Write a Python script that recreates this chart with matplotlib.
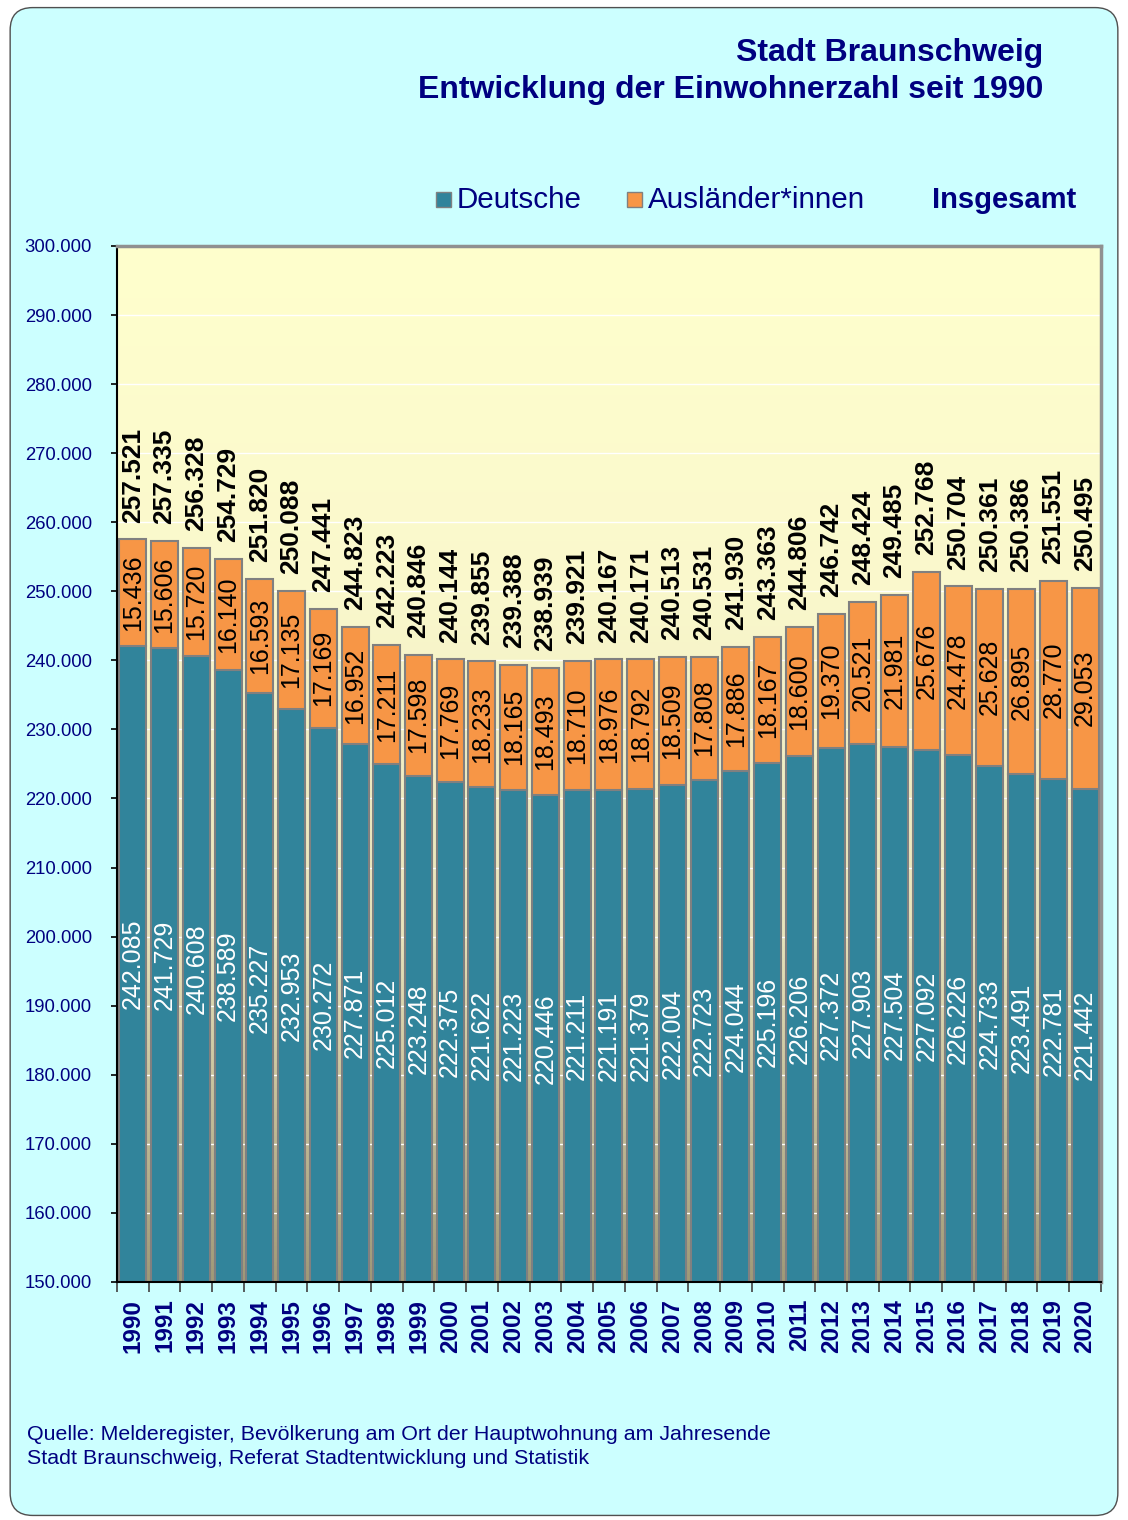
import matplotlib.pyplot as plt
import numpy as np
from matplotlib.patches import FancyBboxPatch, Rectangle
from matplotlib.colors import LinearSegmentedColormap
from matplotlib.ticker import FuncFormatter, MultipleLocator

plt.rcParams['font.family'] = ['Liberation Sans', 'DejaVu Sans']

years = list(range(1990, 2021))
deutsche = [242085, 241729, 240608, 238589, 235227, 232953, 230272, 227871, 225012, 223248,
            222375, 221622, 221223, 220446, 221211, 221191, 221379, 222004, 222723, 224044,
            225196, 226206, 227372, 227903, 227504, 227092, 226226, 224733, 223491, 222781,
            221442]
auslaender = [15436, 15606, 15720, 16140, 16593, 17135, 17169, 16952, 17211, 17598,
              17769, 18233, 18165, 18493, 18710, 18976, 18792, 18509, 17808, 17886,
              18167, 18600, 19370, 20521, 21981, 25676, 24478, 25628, 26895, 28770,
              29053]
insgesamt = [257521, 257335, 256328, 254729, 251820, 250088, 247441, 244823, 242223, 240846,
             240144, 239855, 239388, 238939, 239921, 240167, 240171, 240513, 240531, 241930,
             243363, 244806, 246742, 248424, 249485, 252768, 250704, 250361, 250386, 251551,
             250495]

navy = '#000080'
teal = '#31849B'
orange = '#F79646'
ymin, ymax = 150000, 300000


def de(v):
    return f'{v:,.0f}'.replace(',', '.')


fig = plt.figure(figsize=(11.28, 15.2), dpi=100, facecolor='white')
bg = FancyBboxPatch((0.009, 0.003), 0.982, 0.992, boxstyle='round,pad=0,rounding_size=0.02',
                    transform=fig.transFigure, facecolor='#CCFFFF', edgecolor='#505050',
                    linewidth=1.0, mutation_aspect=1128 / 1520, zorder=-10)
fig.patches.append(bg)

ax = fig.add_axes([0.1037, 0.1566, 0.8723, 0.6816])
ax.set_zorder(5)
x = np.arange(len(years))
ax.set_xlim(-0.5, len(years) - 0.5)
ax.set_ylim(ymin, ymax)

# Hintergrund-Verlauf der Zeichenfläche
cmap = LinearSegmentedColormap.from_list('bg', ['#A09A78', '#E8E4BC', '#FAF8CC', '#FFFFCC'])
grad = np.linspace(0, 1, 256).reshape(-1, 1)
ax.imshow(grad, extent=[-0.5, len(years) - 0.5, ymin, ymax], origin='lower',
          aspect='auto', cmap=cmap, zorder=0)
ax.yaxis.grid(True, color='white', linewidth=1.0, zorder=1)
ax.set_axisbelow(True)

ax.bar(x, np.array(deutsche) - ymin, bottom=ymin, width=0.85, color=teal,
       edgecolor='#808080', linewidth=1.5, zorder=2)
ax.bar(x, auslaender, bottom=deutsche, width=0.85, color=orange,
       edgecolor='#808080', linewidth=1.5, zorder=2)

for i in range(len(years)):
    ax.text(x[i], (ymin + deutsche[i]) / 2, de(deutsche[i]), rotation=90, ha='center',
            va='center', color='white', fontsize=18, zorder=3)
    ax.text(x[i], deutsche[i] + auslaender[i] / 2, de(auslaender[i]), rotation=90,
            ha='center', va='center', color='black', fontsize=18, zorder=3)
    ax.annotate(de(insgesamt[i]), (x[i], insgesamt[i]), xytext=(0, 12),
                textcoords='offset points', rotation=90, ha='center', va='bottom',
                fontsize=19, fontweight='bold', color='black', zorder=3)

ax.yaxis.set_major_locator(MultipleLocator(10000))
ax.yaxis.set_major_formatter(FuncFormatter(lambda v, p: de(v)))
ax.tick_params(axis='y', labelsize=13.3, labelcolor=navy, length=4, width=1.2,
               color='black', pad=14)
ax.set_xticks(x)
ax.set_xticklabels([str(y) for y in years], rotation=90, fontsize=17.5,
                   fontweight='bold', color=navy)
ax.tick_params(axis='x', length=0, pad=12)
ax.set_xticks(np.arange(-0.5, len(years), 1), minor=True)
ax.tick_params(axis='x', which='minor', length=7, width=1.2, color='#404040')

for s in ['left', 'bottom']:
    ax.spines[s].set_color('black')
    ax.spines[s].set_linewidth(1.5)
for s in ['top', 'right']:
    ax.spines[s].set_color('#909090')
    ax.spines[s].set_linewidth(2.5)

fig.text(0.925, 0.965, 'Stadt Braunschweig', ha='right', va='center', fontsize=23,
         fontweight='bold', color=navy)
fig.text(0.925, 0.941, 'Entwicklung der Einwohnerzahl seit 1990', ha='right', va='center',
         fontsize=23, fontweight='bold', color=navy)

# Legende
ly = 1 - 200 / 1520
for lx, col, lab in [(436, teal, 'Deutsche'), (627, orange, 'Ausländer*innen')]:
    fig.patches.append(Rectangle((lx / 1128, ly - 7 / 1520), 15 / 1128, 15 / 1520,
                                 transform=fig.transFigure, facecolor=col,
                                 edgecolor='#808080', linewidth=1))
    fig.text((lx + 21) / 1128, ly, lab, ha='left', va='center', fontsize=21.3, color=navy)
fig.text(1076 / 1128, ly, 'Insgesamt', ha='right', va='center', fontsize=21,
         fontweight='bold', color=navy)

fig.text(27 / 1128, 1 - 1435 / 1520, 'Quelle: Melderegister, Bevölkerung am Ort der Hauptwohnung am Jahresende',
         ha='left', va='center', fontsize=15.4, color=navy)
fig.text(27 / 1128, 1 - 1459 / 1520, 'Stadt Braunschweig, Referat Stadtentwicklung und Statistik',
         ha='left', va='center', fontsize=15.4, color=navy)

fig.savefig('out.png', dpi=100, facecolor=fig.get_facecolor())
